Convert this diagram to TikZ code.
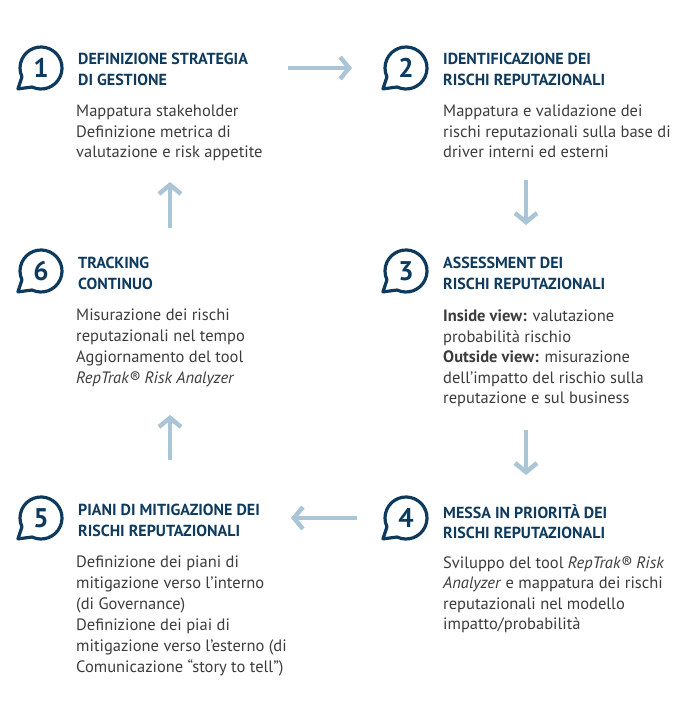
\documentclass[tikz,border=0pt]{standalone}
\usepackage{fontspec}
\setmainfont{PT Sans}
\usetikzlibrary{arrows.meta}
\definecolor{navy}{HTML}{0E3A5E}
\definecolor{bodygray}{HTML}{3C3C3C}
\definecolor{arrowblue}{HTML}{AAC5D5}

\tikzset{
    title/.style={anchor=north west,inner sep=0pt,align=left,text=navy,font=\bfseries\fontsize{16}{20.5}\selectfont},
    body/.style={anchor=north west,inner sep=0pt,align=left,text=bodygray,font=\fontsize{16.5}{20.5}\selectfont},
    flow/.style={arrowblue,line width=4.5pt,-{Straight Barb[length=9pt,width=22pt]}}
}
\newcommand{\bubble}[3]{% centre x, centre y, number
    \draw[navy,line width=3.2pt,line join=round] (#1,#2) ++(245:21) arc (245:565:21) -- ++(-4,-12) -- cycle;
    \node[text=navy,font=\bfseries\fontsize{27}{27}\selectfont] (n#3) at (#1,#2) {#3};
}

\begin{document}
\begin{tikzpicture}[x=1pt,y=1pt]
    \useasboundingbox (0,0) rectangle (694,724);
    % bubbles
    \bubble{41}{656}{1}
    \bubble{406}{656}{2}
    \bubble{406}{453}{3}
    \bubble{406}{206}{4}
    \bubble{41}{206}{5}
    \bubble{41}{453}{6}
    % step 1
    \node[title] (t1) at (78,671) {DEFINIZIONE STRATEGIA\\DI GESTIONE};
    \node[body] (b1) at (76,619) {Mappatura stakeholder\\Definizione metrica di\\valutazione e risk appetite};
    % step 2
    \node[title] (t2) at (443,671) {IDENTIFICAZIONE DEI\\RISCHI REPUTAZIONALI};
    \node[body] (b2) at (443,619) {Mappatura e validazione dei\\rischi reputazionali sulla base di\\driver interni ed esterni};
    % step 3
    \node[title] (t3) at (443,467) {ASSESSMENT DEI\\RISCHI REPUTAZIONALI};
    \node[body] (b3) at (443,414) {\textbf{Inside view:} valutazione\\probabilità rischio\\\textbf{Outside view:} misurazione\\dell’impatto del rischio sulla\\reputazione e sul business};
    % step 4
    \node[title] (t4) at (443,220) {MESSA IN PRIORITÀ DEI\\RISCHI REPUTAZIONALI};
    \node[body] (b4) at (443,168) {Sviluppo del tool \textit{RepTrak® Risk}\\\textit{Analyzer} e mappatura dei rischi\\reputazionali nel modello\\impatto/probabilità};
    % step 5
    \node[title] (t5) at (78,220) {PIANI DI MITIGAZIONE DEI\\RISCHI REPUTAZIONALI};
    \node[body,font=\fontsize{16.5}{21}\selectfont] (b5) at (76,168) {Definizione dei piani di\\mitigazione verso l’interno\\(di Governance)\\Definizione dei piai di\\mitigazione verso l’esterno (di\\Comunicazione “story to tell”)};
    % step 6
    \node[title] (t6) at (78,467) {TRACKING\\CONTINUO};
    \node[body,font=\fontsize{16.5}{21}\selectfont] (b6) at (76,415) {Misurazione dei rischi\\reputazionali nel tempo\\Aggiornamento del tool\\\textit{RepTrak® Risk Analyzer}};
    % flow arrows
    \coordinate (a12s) at (288,656); \coordinate (a12e) at (352,656);
    \coordinate (a23s) at (526,544); \coordinate (a23e) at (526,499);
    \coordinate (a34s) at (526,294); \coordinate (a34e) at (526,249);
    \coordinate (a45s) at (357,206); \coordinate (a45e) at (291,206);
    \coordinate (a56s) at (170,264); \coordinate (a56e) at (170,309);
    \coordinate (a61s) at (170,496); \coordinate (a61e) at (170,542);
    \draw[flow] (a12s) -- (a12e);
    \draw[flow] (a23s) -- (a23e);
    \draw[flow] (a34s) -- (a34e);
    \draw[flow] (a45s) -- (a45e);
    \draw[flow] (a56s) -- (a56e);
    \draw[flow] (a61s) -- (a61e);
\end{tikzpicture}
\end{document}
